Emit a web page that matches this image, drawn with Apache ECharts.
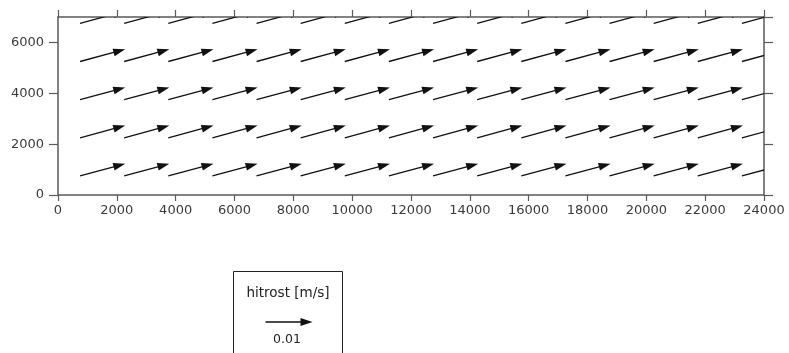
<!DOCTYPE html>
<html>
<head>
<meta charset="utf-8">
<script src="https://cdn.jsdelivr.net/npm/echarts@6/dist/echarts.min.js"></script>
<style>
  html, body { margin: 0; padding: 0; background: #fff; }
  #chart { width: 789px; height: 353px; }
</style>
</head>
<body>
<div id="chart"></div>
<script>
// Grid of vector origins (m)
const xPositions = [750, 2250, 3750, 5250, 6750, 8250, 9750, 11250, 12750, 14250, 15750, 17250, 18750, 20250, 21750, 23250];
const yPositions = [750, 2250, 3750, 5250, 6750];
// Velocity components per row (m/s)
const uRow = [0.0096, 0.0096, 0.0096, 0.0096, 0.0096];
const vRow = [0.0026, 0.0026, 0.0026, 0.0026, 0.0026];
// Axis ticks
const xTicks = [0, 2000, 4000, 6000, 8000, 10000, 12000, 14000, 16000, 18000, 20000, 22000, 24000];
const yTicks = [0, 2000, 4000, 6000];
const yTop = 7000;
// Reference vector
const refSpeed = 0.01;
const refLabel = '0.01';
const legendTitle = 'hitrost [m/s]';

// Pixels per m/s for drawing vectors
const PX_PER_MS = 4700;

const vectors = [];
yPositions.forEach((y, r) => {
  xPositions.forEach(x => vectors.push([x, y, uRow[r], vRow[r]]));
});

const axisColor = '#5a5a5a';
const labelColor = '#3a3a3a';
const arrowColor = '#111';
const fontFamily = 'DejaVu Sans, sans-serif';

function arrowShapes(x0, y0, dx, dy) {
  const len = Math.sqrt(dx * dx + dy * dy);
  const ux = dx / len, uy = dy / len;
  const headLen = 12, headHalf = 3.9;
  const x1 = x0 + dx, y1 = y0 + dy;
  const bx = x1 - ux * headLen, by = y1 - uy * headLen;
  return [
    {
      type: 'line',
      shape: { x1: x0, y1: y0, x2: bx + ux * 2, y2: by + uy * 2 },
      style: { stroke: arrowColor, lineWidth: 1.3 }
    },
    {
      type: 'polygon',
      shape: { points: [[x1, y1], [bx - uy * headHalf, by + ux * headHalf], [bx + uy * headHalf, by - ux * headHalf]] },
      style: { fill: arrowColor }
    }
  ];
}

const chart = echarts.init(document.getElementById('chart'));

const plainNumber = v => String(v);

const baseAxis = {
  type: 'value',
  axisLine: { show: true, onZero: false, lineStyle: { color: axisColor, width: 1.5 } },
  axisTick: { show: true, inside: false, lineStyle: { color: axisColor, width: 1.2 } },
  splitLine: { show: false },
  axisLabel: { color: labelColor, fontSize: 13, fontFamily: fontFamily, formatter: plainNumber }
};

const xMin = xTicks[0], xMax = xTicks[xTicks.length - 1], xStep = xTicks[1] - xTicks[0];
const yMin = yTicks[0], yStep = yTicks[1] - yTicks[0];

const refLen = refSpeed * PX_PER_MS;

chart.setOption({
  animation: false,
  grid: { left: 58, right: 25, top: 17, bottom: 158 },
  xAxis: [
    Object.assign({}, baseAxis, {
      position: 'bottom', min: xMin, max: xMax, interval: xStep,
      axisTick: Object.assign({}, baseAxis.axisTick, { length: 6 }),
      axisLabel: Object.assign({}, baseAxis.axisLabel, { margin: 9 })
    }),
    Object.assign({}, baseAxis, {
      position: 'top', min: xMin, max: xMax, interval: xStep,
      axisTick: Object.assign({}, baseAxis.axisTick, { length: 7 }),
      axisLabel: { show: false }
    })
  ],
  yAxis: [
    Object.assign({}, baseAxis, {
      position: 'left', min: yMin, max: yTop, interval: yStep,
      axisTick: Object.assign({}, baseAxis.axisTick, { length: 9 }),
      axisLabel: Object.assign({}, baseAxis.axisLabel, { margin: 14, showMaxLabel: false })
    }),
    Object.assign({}, baseAxis, {
      position: 'right', min: yMin, max: yTop, interval: yStep,
      axisTick: Object.assign({}, baseAxis.axisTick, { length: 9 }),
      axisLabel: { show: false }
    })
  ],
  series: [{
    type: 'custom',
    clip: true,
    xAxisIndex: 0,
    yAxisIndex: 0,
    data: vectors,
    renderItem: function (params, api) {
      const p = api.coord([api.value(0), api.value(1)]);
      const dx = api.value(2) * PX_PER_MS;
      const dy = -api.value(3) * PX_PER_MS;
      return { type: 'group', children: arrowShapes(p[0], p[1], dx, dy) };
    }
  }],
  graphic: [
    {
      type: 'rect',
      shape: { x: 233.5, y: 271.5, width: 109, height: 100 },
      style: { fill: 'none', stroke: '#222', lineWidth: 1 }
    },
    {
      type: 'text',
      x: 288, y: 293,
      style: {
        text: legendTitle, fill: '#222', fontSize: 13.5, fontFamily: fontFamily,
        align: 'center', verticalAlign: 'middle'
      }
    },
    {
      type: 'group',
      children: arrowShapes(265.5, 322, refLen, 0)
    },
    {
      type: 'text',
      x: 287, y: 339.5,
      style: {
        text: refLabel, fill: '#222', fontSize: 12.5, fontFamily: fontFamily,
        align: 'center', verticalAlign: 'middle'
      }
    }
  ]
});
</script>
</body>
</html>
